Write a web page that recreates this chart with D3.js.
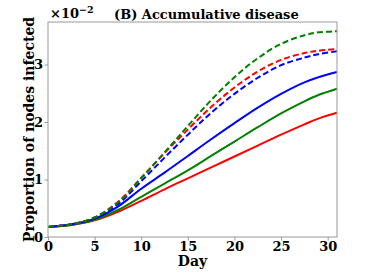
<!DOCTYPE html>
<html>
<head>
<meta charset="utf-8">
<style>
  html, body {margin: 0; padding: 0; background: #fff;}
  svg {display: block;}
  text {font-family: "DejaVu Serif", serif; font-weight: bold; fill: #000;}
</style>
</head>
<body>
<div id="chart"></div>
<script src="https://cdn.jsdelivr.net/npm/d3@7/dist/d3.min.js"></script>
<script>
// values, in units of 1e-2
var days = [0, 2.5, 5, 7.5, 10, 12.5, 15, 17.5, 20, 22.5, 25, 27.5, 29, 31];
var greenDashed = [0.175, 0.22, 0.34, 0.60, 1.02, 1.47, 1.93, 2.38, 2.78, 3.11, 3.36, 3.51, 3.56, 3.58];
var redDashed   = [0.175, 0.22, 0.34, 0.61, 1.03, 1.46, 1.87, 2.26, 2.60, 2.88, 3.08, 3.20, 3.24, 3.27];
var blueDashed  = [0.175, 0.22, 0.33, 0.57, 0.97, 1.38, 1.78, 2.16, 2.49, 2.77, 2.99, 3.12, 3.18, 3.23];
var blueSolid   = [0.175, 0.22, 0.32, 0.53, 0.84, 1.12, 1.41, 1.70, 1.98, 2.25, 2.49, 2.69, 2.78, 2.87];
var greenSolid  = [0.175, 0.21, 0.30, 0.47, 0.70, 0.93, 1.16, 1.41, 1.66, 1.91, 2.15, 2.36, 2.47, 2.58];
var redSolid    = [0.175, 0.21, 0.29, 0.44, 0.63, 0.83, 1.02, 1.21, 1.40, 1.59, 1.78, 1.96, 2.06, 2.16];
var xTicks = [0, 5, 10, 15, 20, 25, 30];
var yTicks = [0, 1, 2, 3];

var series = [
  {values: redSolid, color: "#ff0000", dashed: false},
  {values: greenSolid, color: "#008000", dashed: false},
  {values: blueSolid, color: "#0000ff", dashed: false},
  {values: blueDashed, color: "#0000ff", dashed: true},
  {values: redDashed, color: "#ff0000", dashed: true},
  {values: greenDashed, color: "#008000", dashed: true}
];

var W = 374, H = 273;
var margin = {top: 22, right: 37, bottom: 36, left: 48};
var width = W - margin.left - margin.right,
    height = H - margin.top - margin.bottom;

var svg = d3.select("#chart").append("svg")
    .attr("width", W)
    .attr("height", H);

var g = svg.append("g")
    .attr("transform", "translate(" + margin.left + "," + margin.top + ")");

var x = d3.scaleLinear().domain([0, 31]).range([0, width]);
var y = d3.scaleLinear().domain([0, 3.74]).range([height, 0]);

var line = d3.line()
    .x(function(d) { return x(d[0]); })
    .y(function(d) { return y(d[1]); })
    .curve(d3.curveCatmullRom.alpha(0.5));

series.forEach(function(s) {
  g.append("path")
      .datum(days.map(function(d, i) { return [d, s.values[i]]; }))
      .attr("fill", "none")
      .attr("stroke", s.color)
      .attr("stroke-width", 2)
      .attr("stroke-dasharray", s.dashed ? "6,3" : null)
      .attr("d", line);
});

// frame
g.append("rect")
    .attr("width", width)
    .attr("height", height)
    .attr("fill", "none")
    .attr("stroke", "#999")
    .attr("stroke-width", 1);

var xAxis = g.append("g")
    .attr("transform", "translate(0," + height + ")")
    .call(d3.axisBottom(x).tickValues(xTicks).tickSize(3.5).tickPadding(1.5));
var yAxis = g.append("g")
    .call(d3.axisLeft(y).tickValues(yTicks).tickFormat(d3.format("d")).tickSize(3.5).tickPadding(1.5));

[xAxis, yAxis].forEach(function(a) {
  a.select(".domain").remove();
  a.selectAll(".tick line").attr("stroke", "#999");
  a.selectAll(".tick text")
      .style("font-family", "DejaVu Serif")
      .style("font-weight", "bold")
      .style("font-size", "13px")
      .attr("fill", "#000");
});

// exponent label
var expo = svg.append("text")
    .attr("x", 50)
    .attr("y", 18)
    .style("font-size", "13px");
expo.append("tspan").text("\u00d710");
expo.append("tspan").attr("dy", -5).style("font-size", "9.5px").text("\u22122");

svg.append("text")
    .attr("x", 114)
    .attr("y", 19)
    .style("font-size", "13px")
    .text("(B) Accumulative disease");

svg.append("text")
    .attr("x", margin.left + width / 2)
    .attr("y", 266)
    .attr("text-anchor", "middle")
    .style("font-size", "14px")
    .text("Day");

svg.append("text")
    .attr("transform", "translate(34," + (margin.top + height / 2) + ") rotate(-90)")
    .attr("text-anchor", "middle")
    .style("font-size", "14px")
    .text("Proportion of nodes infected");
</script>
</body>
</html>
